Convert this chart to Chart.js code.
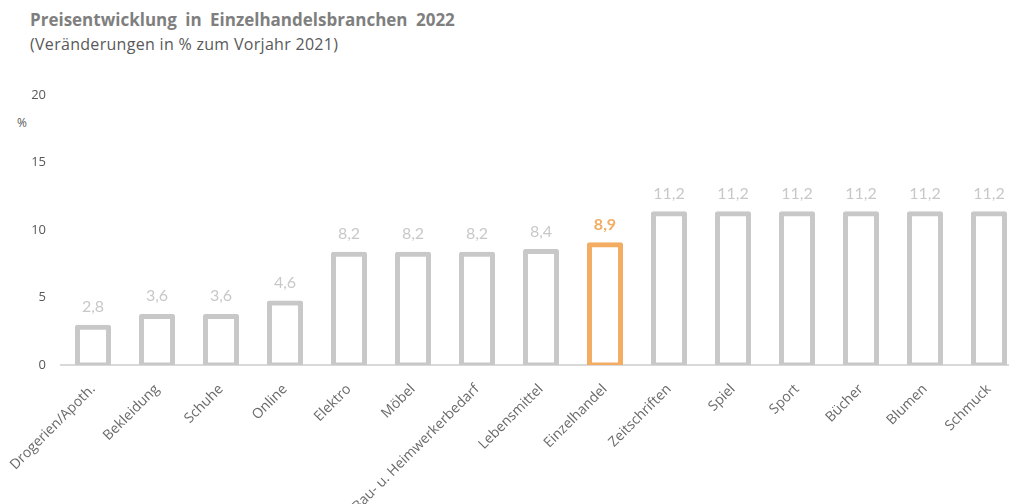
<!DOCTYPE html>
<html>
<head>
<meta charset="utf-8">
<script src="https://cdn.jsdelivr.net/npm/chart.js@4"></script>
<style>
  html, body { margin: 0; padding: 0; background: #fff; }
  body { width: 1009px; height: 504px; overflow: hidden; position: relative; font-family: "Open Sans", Lato, sans-serif; }
  .title { position: absolute; left: 30px; top: 8px; font-size: 17px; font-weight: bold; color: #7f7f7f; word-spacing: 4px; }
  .subtitle { position: absolute; left: 30px; top: 33px; font-size: 16px; color: #595959; letter-spacing: 0.3px; }
  .unit { position: absolute; left: 17px; top: 114px; font-size: 12px; color: #595959; }
  .wrap { position: absolute; left: 0; top: 0; width: 1030px; height: 504px; }
</style>
</head>
<body>
<div class="title">Preisentwicklung in Einzelhandelsbranchen 2022</div>
<div class="subtitle">(Veränderungen in % zum Vorjahr 2021)</div>
<div class="unit">%</div>
<div class="wrap"><canvas id="chart"></canvas></div>
<script>
// Daten
const branchen = ['Drogerien/Apoth.', 'Bekleidung', 'Schuhe', 'Online', 'Elektro', 'Möbel',
  'Bau- u. Heimwerkerbedarf', 'Lebensmittel', 'Einzelhandel', 'Zeitschriften', 'Spiel',
  'Sport', 'Bücher', 'Blumen', 'Schmuck'];
const veraenderung = [2.8, 3.6, 3.6, 4.6, 8.2, 8.2, 8.2, 8.4, 8.9, 11.2, 11.2, 11.2, 11.2, 11.2, 11.2];
const yTicks = [0, 5, 10, 15, 20];
const highlight = 'Einzelhandel';

const grau = '#c8c8c8';
const orange = '#f2ad62';
const farben = branchen.map(b => b === highlight ? orange : grau);

// Werte über den Balken
const valueLabels = {
  id: 'valueLabels',
  afterDatasetsDraw(chart) {
    const ctx = chart.ctx;
    const meta = chart.getDatasetMeta(0);
    ctx.save();
    ctx.textAlign = 'center';
    ctx.textBaseline = 'alphabetic';
    meta.data.forEach((bar, i) => {
      const isHl = branchen[i] === highlight;
      ctx.font = (isHl ? 'bold ' : '') + '16px Lato, "Open Sans", sans-serif';
      ctx.fillStyle = isHl ? orange : grau;
      ctx.fillText(veraenderung[i].toFixed(1).replace('.', ','), bar.x, bar.y - 15);
    });
    ctx.restore();
  }
};

new Chart(document.getElementById('chart'), {
  type: 'bar',
  data: {
    labels: branchen,
    datasets: [{
      data: veraenderung,
      backgroundColor: '#ffffff',
      borderColor: farben,
      borderWidth: 5,
      borderSkipped: false,
      borderRadius: 2,
      inflateAmount: 2.5,
      categoryPercentage: 1,
      barPercentage: 0.485
    }]
  },
  options: {
    responsive: true,
    maintainAspectRatio: false,
    animation: false,
    layout: { padding: { top: 95, right: 9, left: 0, bottom: 0 } },
    plugins: { legend: { display: false }, tooltip: { enabled: false } },
    scales: {
      x: {
        grid: { display: false },
        border: { color: '#d9d9d9', width: 2 },
        ticks: {
          color: '#6a6a6a',
          font: { family: '"Open Sans", Lato, sans-serif', size: 14 },
          minRotation: 45,
          maxRotation: 45,
          padding: 8
        },
        afterFit(scale) { scale.height = 139; }
      },
      y: {
        min: 0,
        max: 20,
        afterBuildTicks(scale) { scale.ticks = yTicks.map(v => ({ value: v })); },
        grid: { display: false, drawTicks: false },
        border: { display: false },
        ticks: {
          color: '#595959',
          font: { family: '"Open Sans", Lato, sans-serif', size: 13 },
          padding: 15
        },
        afterFit(scale) { scale.width = 61; }
      }
    }
  },
  plugins: [valueLabels]
});
</script>
</body>
</html>
